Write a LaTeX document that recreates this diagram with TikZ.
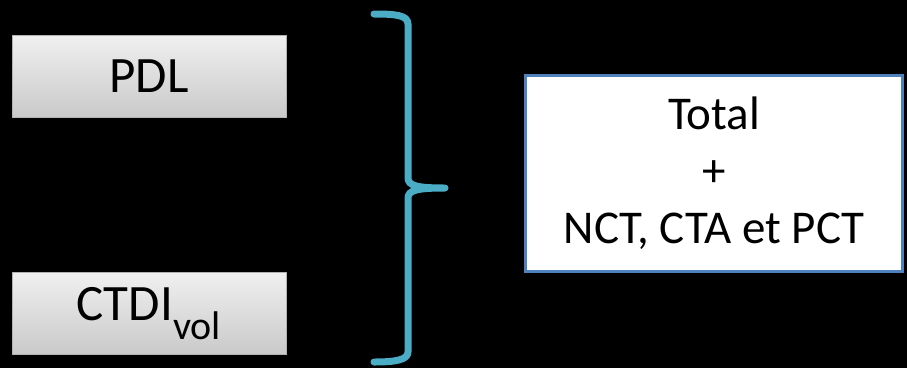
\documentclass[tikz,border=0pt]{standalone}
\usepackage{fontspec}
\setmainfont{Carlito}
\begin{document}
\begin{tikzpicture}[x=1pt,y=-1pt,
  graybox/.style={draw=gray!60,line width=0.8pt,top color=gray!12,bottom color=gray!42,minimum width=274pt,minimum height=82pt,inner sep=0pt,font=\fontsize{51}{60}\selectfont},
  resbox/.style={draw={rgb,255:red,79;green,129;blue,189},line width=3pt,fill=white,minimum width=377pt,minimum height=196pt,inner sep=0pt,align=center,font=\fontsize{47}{57}\selectfont},
  bracestyle/.style={draw={rgb,255:red,75;green,172;blue,198},line width=7pt,line cap=round,line join=round}]
\useasboundingbox[fill=black] (0,0) rectangle (907,368);
\node[graybox] (pdl) at (149,76) {PDL};
\node[graybox] (ctdi) at (149,313.5) {CTDI\textsubscript{\fontsize{40}{48}\selectfont vol}};
\node[resbox] (res) at (714,173.5) {Total\\+\\NCT, CTA et PCT};
\coordinate (btop) at (374,14);
\coordinate (bbot) at (374,362);
\coordinate (btip) at (445,188);
\draw[bracestyle] (btop) .. controls (395,14) and (408,15) .. (408,24)
  -- (408,178) .. controls (408,186) and (418,188) .. (btip)
  .. controls (418,188) and (408,190) .. (408,198)
  -- (408,352) .. controls (408,360) and (395,362) .. (bbot);
\end{tikzpicture}
\end{document}
